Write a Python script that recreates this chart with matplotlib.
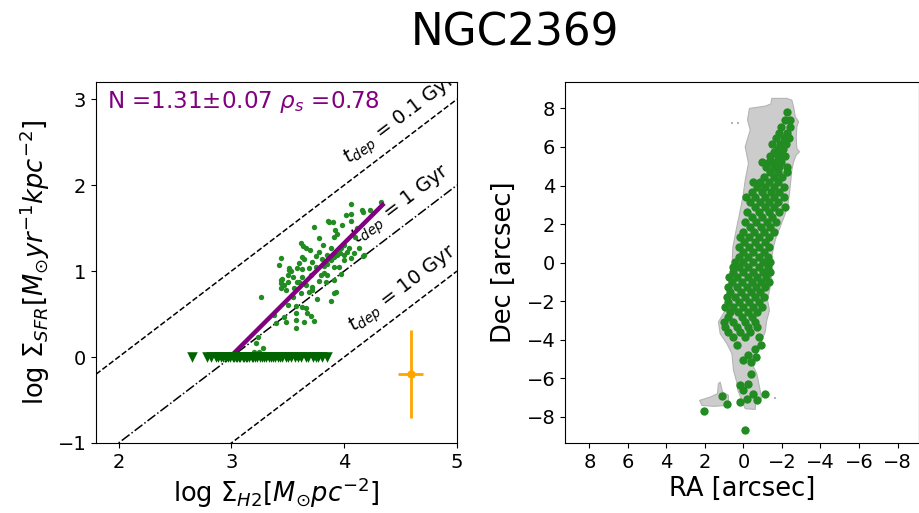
import numpy as np
import matplotlib
matplotlib.use("Agg")
import matplotlib.pyplot as plt
from matplotlib.patches import Polygon

galaxy = "NGC2369"

# --- Kennicutt-Schmidt panel -------------------------------------------------
# detected spaxels: log Sigma_H2 [Msun pc^-2], log Sigma_SFR [Msun yr^-1 kpc^-2]
ks_h2 = [4.062, 4.330, 4.233, 4.168, 4.056, 3.859, 3.903, 3.983, 4.056, 3.733,
         3.915, 3.939, 3.909, 4.115, 3.774, 3.615, 3.636, 3.815, 3.886, 3.659,
         3.998, 4.042, 3.962, 3.998, 4.086, 4.027, 4.130, 4.168, 3.909, 3.939,
         3.630, 3.439, 3.645, 3.806, 3.880, 3.424, 3.512, 3.527, 3.586, 3.630,
         3.689, 3.748, 3.821, 3.851, 3.909, 3.821, 3.453, 3.542, 3.630, 3.703,
         3.792, 3.851, 3.968, 3.439, 3.468, 3.498, 3.586, 3.659, 3.718, 3.836,
         3.909, 3.439, 3.483, 3.556, 3.718, 3.615, 3.689, 3.909, 3.262, 3.762,
         3.880, 3.571, 3.630, 3.659, 3.380, 3.468, 3.571, 3.674, 3.703, 3.395,
         3.483, 3.571, 3.645, 3.733, 3.571, 3.233, 3.218, 3.277, 3.248, 3.998,
         4.056, 3.968, 3.851, 3.777, 3.718, 3.601, 3.498, 3.200,
         3.865, 4.012, 4.159, 3.438, 3.512, 3.923, 4.173, 3.700, 3.750, 3.550,
         3.600, 3.780, 4.100, 3.950, 3.500]
ks_sfr = [1.779, 1.799, 1.710, 1.682, 1.663, 1.582, 1.566, 1.535, 1.582, 1.508,
          1.477, 1.427, 1.399, 1.496, 1.380, 1.330, 1.295, 1.303, 1.272, 1.264,
          1.303, 1.264, 1.206, 1.186, 1.206, 1.217, 1.264, 1.175, 1.167, 1.186,
          1.167, 1.155, 1.136, 1.136, 1.124, 1.070, 1.031, 1.000, 1.039, 1.020,
          1.031, 1.051, 1.062, 1.078, 1.051, 0.973, 0.907, 0.934, 0.934, 0.954,
          0.954, 0.954, 0.965, 0.857, 0.837, 0.868, 0.868, 0.837, 0.818, 0.868,
          0.896, 0.799, 0.779, 0.799, 0.779, 0.741, 0.760, 0.741, 0.702, 0.675,
          0.651, 0.593, 0.585, 0.566, 0.489, 0.469, 0.508, 0.508, 0.481, 0.392,
          0.411, 0.431, 0.411, 0.419, 0.341, 0.237, 0.159, 0.101, 0.062, 1.128,
          1.148, 1.264, 1.186, 1.225, 1.109, 1.089, 0.954, 0.060,
          1.574, 1.651, 1.709, 0.896, 1.012, 0.752, 1.186, 1.250, 1.170, 0.700,
          0.870, 0.880, 1.400, 1.050, 0.600]

# SFR upper limits (plotted at log Sigma_SFR = 0)
lim_h2 = [2.65, 2.78, 2.82, 2.86, 2.88, 2.91, 2.93, 2.95, 2.97, 2.99, 3.01,
          3.02, 3.04, 3.05, 3.07, 3.08, 3.10, 3.11, 3.13, 3.14, 3.16, 3.18,
          3.19, 3.21, 3.23, 3.25, 3.27, 3.29, 3.31, 3.33, 3.35, 3.37, 3.39,
          3.41, 3.43, 3.45, 3.48, 3.50, 3.53, 3.56, 3.59, 3.62, 3.66, 3.68,
          3.72, 3.75, 3.77, 3.80, 3.85]
lim_sfr = [0.0] * len(lim_h2)

# power-law fit
fit_slope = 1.31
fit_slope_err = 0.07
fit_intercept = -3.915
fit_range = [3.02, 4.34]
spearman = 0.78

# depletion times [Gyr]
tdep_gyr = [0.1, 1, 10]
tdep_labels = ["0.1", "1", "10"]
tdep_styles = ["--", "-.", "--"]
tdep_label_x = [4.04, 4.115, 4.086]

# typical uncertainty
err_x, err_y = 4.59, -0.20
err_dx, err_dy = 0.11, 0.51

# --- map panel -----------------------------------------------------------------
# detected spaxel positions, grouped by Dec row: (Dec, [RA offsets])
map_rows = [
    (7.79, [-2.25]),
    (7.40, [-2.17, -2.43]),
    (7.05, [-1.94, -2.43]),
    (6.70, [-1.82, -2.25]),
    (6.48, [-1.70, -2.08, -2.39]),
    (6.18, [-1.47, -1.91, -2.22]),
    (5.90, [-1.77, -2.05]),
    (5.75, [-1.56, -1.91]),
    (5.51, [-1.39, -1.77, -2.17]),
    (5.23, [-0.95, -1.30, -1.65, -1.94]),
    (4.94, [-1.18, -1.56, -1.87, -2.25]),
    (4.70, [-1.39, -1.77, -2.25]),
    (4.45, [-1.04, -1.56, -1.99]),
    (4.19, [-0.49, -0.87, -1.30, -1.77]),
    (3.93, [-0.69, -1.13, -1.56, -2.08]),
    (3.67, [-0.43, -0.95, -1.42, -1.82]),
    (3.42, [-0.14, -0.61, -1.13, -1.60, -2.08]),
    (3.16, [-0.35, -0.87, -1.35, -1.77]),
    (2.90, [-0.61, -1.13, -1.56, -2.17]),
    (2.64, [-0.18, -0.78, -1.30, -1.87]),
    (2.38, [-0.43, -0.95, -1.47]),
    (2.12, [-0.09, -0.66, -1.21, -1.70]),
    (1.86, [-0.35, -0.90, -1.39]),
    (1.60, [0.00, -0.56, -1.08, -1.60]),
    (1.34, [0.17, -0.31, -0.83, -1.30]),
    (1.08, [-0.03, -0.61, -1.13]),
    (0.82, [0.21, -0.31, -0.83, -1.35]),
    (0.56, [0.00, -0.52, -1.04]),
    (0.30, [0.21, -0.26, -0.78, -1.25]),
    (0.02, [0.45, 0.00, -0.52, -1.01, -1.39]),
    (-0.24, [0.55, 0.21, -0.26, -0.78, -1.25]),
    (-0.50, [0.55, 0.00, -0.52, -1.01, -1.39]),
    (-0.74, [0.75, 0.35, -0.21, -0.69, -1.18]),
    (-1.00, [0.61, 0.09, -0.43, -0.90, -1.30]),
    (-1.27, [0.80, 0.35, -0.18, -0.66, -1.13]),
    (-1.53, [0.69, 0.14, -0.38, -0.87]),
    (-1.79, [0.85, 0.43, -0.09, -0.61, -1.08]),
    (-2.03, [0.78, 0.21, -0.31, -0.83]),
    (-2.31, [0.95, 0.52, 0.00, -0.52, -0.95]),
    (-2.57, [0.69, 0.26, -0.26, -0.69]),
    (-2.83, [0.78, 0.09, -0.43]),
    (-3.09, [1.00, 0.55, -0.09, -0.61]),
    (-3.35, [0.95, 0.35, -0.21, -0.69]),
    (-3.61, [0.78, 0.17, -0.35]),
    (-3.87, [0.52, -0.09, -0.78]),
    (-4.28, [0.35, -0.90]),
    (-4.50, [-0.61]),
    (-4.80, [-0.26]),
    (-4.89, [-0.66]),
    (-5.06, [0.00]),
    (-5.15, [-0.38]),
    (-5.75, [-0.38]),
    (-6.27, [-0.26]),
    (-6.36, [0.17]),
    (-6.62, [0.00]),
    (-6.79, [-0.52, -1.13]),
    (-6.93, [1.12]),
    (-7.05, [-0.18]),
    (-7.14, [-0.70]),
    (-7.22, [0.17]),
    (-7.34, [0.86]),
    (-7.69, [2.04]),
    (-8.66, [-0.09]),
]

# CO emission footprint outline (RA, Dec)
mask_ra = [-0.31, -0.21, -0.35, -0.09, -0.26, -0.09, 0.03, 0.20, 0.38, 0.55,
           0.60, 0.78, 0.95, 1.30, 1.21, 0.86, 0.60, 0.52, 0.35, 0.30, 0.08,
           -0.09, -0.61, -0.64, -0.95, -0.78, -0.69, -0.52, -0.61, -0.78, -0.95,
           -1.13, -1.21, -1.35, -1.25, -1.35, -1.47, -1.39, -1.47, -1.56, -1.70,
           -1.91, -2.11, -2.29, -2.39, -2.46, -2.51, -2.60, -2.74, -2.91, -2.77,
           -2.74, -2.77, -2.86, -2.69, -2.60, -2.51, -2.25, -1.47, -1.42, -1.13]
mask_dec = [8.00, 7.40, 6.88, 6.01, 5.15, 4.28, 3.42, 2.55, 1.69, 0.82,
            -0.22, -1.26, -2.47, -3.07, -3.68, -4.20, -4.72, -5.58, -6.19, -6.60, -7.14,
            -7.57, -7.61, -7.14, -7.05, -6.19, -5.75, -5.41, -4.89, -4.54, -4.02,
            -3.59, -2.99, -2.47, -1.95, -1.43, -0.91, -0.39, 0.30, 0.82, 1.34,
            1.86, 2.38, 2.90, 3.59, 4.28, 4.80, 5.23, 5.58, 5.75, 5.92,
            6.53, 7.05, 7.31, 7.57, 8.09, 8.43, 8.52, 8.52, 8.23, 8.12]
lobe_ra = [1.21, 1.09, 0.78, 0.78, 1.56, 2.16, 2.28, 1.73, 1.35, 1.30]
lobe_dec = [-6.19, -6.70, -6.88, -7.40, -7.45, -7.40, -7.14, -6.97, -6.79, -6.27]
speck_ra = [0.60, 0.26, -1.65]
speck_dec = [7.22, 7.22, -7.00]

map_ticks = [8, 6, 4, 2, 0, -2, -4, -6, -8]

# -------------------------------------------------------------------------------
W, H = 919, 513
fig = plt.figure(figsize=(W / 100, H / 100), dpi=100)

ax1 = fig.add_axes([96 / W, 1 - 443 / H, 361 / W, 361 / H])
ax2 = fig.add_axes([565 / W, 1 - 443 / H, 353.5 / W, 361 / H])

# left: KS relation
ax1.set_xlim(1.8, 5.0)
ax1.set_ylim(-1.0, 3.2)
xx = np.array(ax1.get_xlim())
fig.canvas.draw()
p0 = ax1.transData.transform((2, 0))
p1 = ax1.transData.transform((3, 1))
angle = np.degrees(np.arctan2(p1[1] - p0[1], p1[0] - p0[0]))
for t, lab, ls, lx in zip(tdep_gyr, tdep_labels, tdep_styles, tdep_label_x):
    off = 6 - np.log10(t * 1e9)
    ax1.plot(xx, xx + off, ls=ls, color="black", lw=1.1, zorder=1)
    ax1.text(lx, lx + off + 0.2, r"$t_{dep}$ = " + lab + " Gyr", fontsize=14,
             rotation=angle, rotation_mode="anchor", ha="left", va="baseline",
             clip_on=True, zorder=1)

ax1.scatter(ks_h2, ks_sfr, s=15, color="forestgreen", zorder=2, linewidths=0)
fx = np.array(fit_range)
ax1.plot(fx, fit_slope * fx + fit_intercept, color="purple", lw=3.2, zorder=3)
ax1.scatter(lim_h2, lim_sfr, marker="v", s=58, color="darkgreen", zorder=4,
            linewidths=0)
ax1.errorbar([err_x], [err_y], xerr=[err_dx], yerr=[err_dy], fmt="o",
             color="orange", ms=5, elinewidth=2, capsize=0)
ax1.text(0.03, 0.945,
         r"N =%.2f$\pm$%.2f $\rho_s$ =%.2f" % (fit_slope, fit_slope_err, spearman),
         transform=ax1.transAxes, color="purple", fontsize=16.6, va="center",
         ha="left")
ax1.set_xticks([2, 3, 4, 5])
ax1.set_yticks([-1, 0, 1, 2, 3])
ax1.tick_params(labelsize=14)
ax1.set_xlabel(r"log $\Sigma_{H2}[M_{\odot}pc^{-2}]$", fontsize=18.5, labelpad=3)
ax1.set_ylabel(r"log $\Sigma_{SFR}[M_{\odot}yr^{-1}kpc^{-2}]$", fontsize=18.5,
               labelpad=4)

# right: spaxel map
gray_face, gray_edge = "#cccccc", "#b4b4b4"
ax2.add_patch(Polygon(np.column_stack([mask_ra, mask_dec]), closed=True,
                      facecolor=gray_face, edgecolor=gray_edge, lw=0.8, zorder=1))
ax2.add_patch(Polygon(np.column_stack([lobe_ra, lobe_dec]), closed=True,
                      facecolor=gray_face, edgecolor=gray_edge, lw=0.8, zorder=1))
ax2.scatter(speck_ra, speck_dec, marker="s", s=3, color=gray_edge, linewidths=0,
            zorder=1)
map_dec = [d for d, ras in map_rows for _ in ras]
map_ra = [r for d, ras in map_rows for r in ras]
ax2.scatter(map_ra, map_dec, s=36, color="forestgreen", linewidths=0, zorder=2)
ax2.set_xlim(9.27, -9.09)
ax2.set_ylim(-9.35, 9.37)
ax2.set_xticks(map_ticks)
ax2.set_yticks(map_ticks)
ax2.tick_params(labelsize=14)
ax2.set_xlabel("RA [arcsec]", fontsize=18.5, labelpad=3)
ax2.set_ylabel("Dec [arcsec]", fontsize=18.5, labelpad=7)

fig.text(515 / W, 1 - 45 / H, galaxy, fontsize=31.5, ha="center", va="baseline")

fig.savefig("out.png", dpi=100)
